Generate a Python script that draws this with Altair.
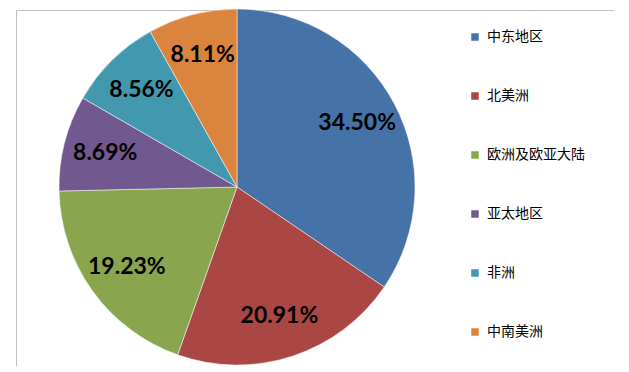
import altair as alt
import pandas as pd

regions = ["中东地区", "北美洲", "欧洲及欧亚大陆", "亚太地区", "非洲", "中南美洲"]
shares = [34.50, 20.91, 19.23, 8.69, 8.56, 8.11]
colors = ["#4572A7", "#AA4643", "#89A54E", "#71588F", "#4198AF", "#DB843D"]

df = pd.DataFrame({"region": regions, "share": shares, "order": list(range(len(regions)))})
df["label"] = [f"{v:.2f}%" for v in shares]

cx, cy = 221, 177

base = alt.Chart(df).encode(
    theta=alt.Theta("share:Q", stack=True),
    order=alt.Order("order:Q"),
)

arcs = base.mark_arc(outerRadius=178, stroke="white", strokeWidth=0.5).encode(
    x=alt.value(cx),
    y=alt.value(cy),
    color=alt.Color(
        "region:N",
        scale=alt.Scale(domain=regions, range=colors),
        sort=regions,
        legend=alt.Legend(
            title=None,
            orient="none",
            legendX=452,
            legendY=20,
            symbolType="square",
            symbolSize=56,
            symbolStrokeWidth=0,
            labelFont="Noto Sans CJK SC",
            labelFontSize=14,
            labelColor="#000000",
            rowPadding=45,
            labelOffset=5,
        ),
    ),
)

texts = base.mark_text(
    radius=136,
    font="Lato",
    fontSize=23,
    fontWeight="bold",
    color="#000000",
).encode(
    x=alt.value(cx),
    y=alt.value(cy),
    text="label:N",
)

chart = (
    alt.layer(arcs, texts)
    .properties(width=598, height=356, padding={"left": 8, "top": 0, "right": 0, "bottom": 0})
    .configure_view(stroke="#BFBFBF", strokeWidth=1)
)

chart.save("out.html", embed_options={"renderer": "svg", "actions": False})
